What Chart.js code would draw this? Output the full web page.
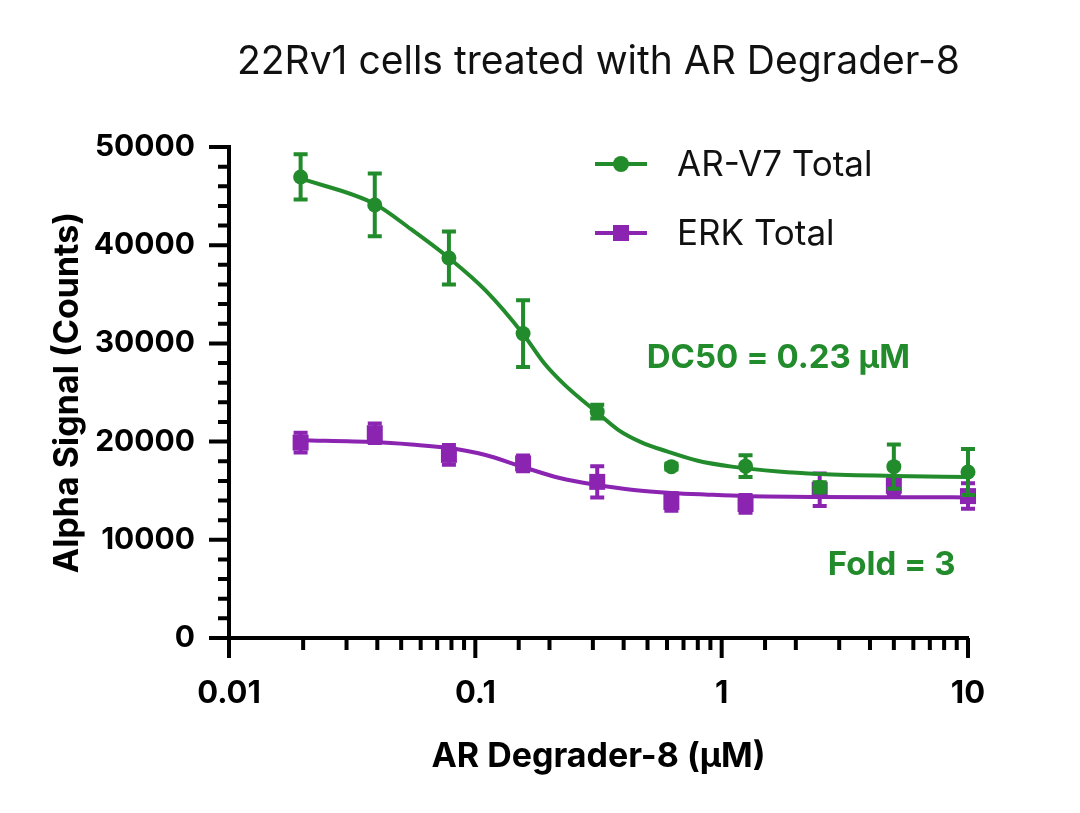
<!DOCTYPE html>
<html lang="en">
<head>
<meta charset="UTF-8">
<title>22Rv1 cells treated with AR Degrader-8</title>
<script src="https://cdn.jsdelivr.net/npm/chart.js"></script>
<style>
  body { margin: 0; background: #fff; }
  #box { width: 1080px; height: 813px; }
</style>
</head>
<body>
<div id="box"><canvas id="doseChart"></canvas></div>
<script>
// doses in µM (2-fold dilution from 10)
const doses = [0.01953125, 0.0390625, 0.078125, 0.15625, 0.3125, 0.625, 1.25, 2.5, 5, 10];

// measured points, mean and error
const arv7Mean = [46950, 44100, 38700, 31000, 23050, 17450, 17500, 15350, 17450, 16900];
const arv7Err  = [2300, 3200, 2700, 3400, 700, 300, 1100, 500, 2250, 2350];
const erkMean  = [19900, 20850, 18650, 17780, 15900, 13850, 13650, 15100, 15500, 14450];
const erkErr   = [1000, 1000, 1000, 800, 1600, 900, 900, 1650, 900, 1300];

// fitted curves
const arv7FitDoses = [0.01953125, 0.0390625, 0.055, 0.078125, 0.11, 0.15625, 0.19, 0.23, 0.3125, 0.38, 0.47, 0.6, 0.8, 1.1, 1.7, 2.5, 5, 10];
const arv7Fit      = [46800, 44200, 41600, 38700, 35400, 30960, 28000, 25800, 22950, 21200, 19950, 19000, 18050, 17450, 16950, 16700, 16500, 16400];
const erkFitDoses  = [0.01953125, 0.0390625, 0.055, 0.078125, 0.11, 0.15625, 0.22, 0.3125, 0.44, 0.625, 0.88, 1.25, 2.5, 5, 10];
const erkFit       = [20150, 19950, 19700, 19350, 18640, 17410, 16290, 15580, 15070, 14770, 14600, 14460, 14360, 14330, 14320];

const xTickLabels = ['0.01', '0.1', '1', '10'];
const yTickLabels = ['0', '10000', '20000', '30000', '40000', '50000'];

const GREEN = '#228B2B';
const PURPLE = '#8A24B1';
const boldFont = 'Inter, "Liberation Sans", sans-serif';

const pts = (xs, ys) => xs.map((x, i) => ({ x: x, y: ys[i] }));

// error bars, drawn under the markers of their own dataset
const errorBars = {
  id: 'errorBars',
  beforeDatasetDraw(chart, args) {
    const ds = chart.data.datasets[args.index];
    if (!ds.errors) return;
    const { ctx, scales: { x, y } } = chart;
    ctx.save();
    ctx.strokeStyle = ds.borderColor;
    ctx.lineWidth = 4;
    ds.data.forEach((p, i) => {
      const e = ds.errors[i];
      if (!e) return;
      const px = x.getPixelForValue(p.x);
      const top = y.getPixelForValue(p.y + e);
      const bot = y.getPixelForValue(p.y - e);
      ctx.beginPath();
      ctx.moveTo(px, top); ctx.lineTo(px, bot);
      ctx.moveTo(px - 7, top); ctx.lineTo(px + 7, top);
      ctx.moveTo(px - 7, bot); ctx.lineTo(px + 7, bot);
      ctx.stroke();
    });
    ctx.restore();
  }
};

// long / short tick marks outside the axes
const tickMarks = {
  id: 'tickMarks',
  afterDraw(chart) {
    const { ctx, chartArea: a, scales: { x, y } } = chart;
    ctx.save();
    ctx.strokeStyle = '#000';
    ctx.lineWidth = 4;
    ctx.beginPath();
    y.ticks.forEach(t => {
      const py = y.getPixelForValue(t.value);
      const len = t.value % 10000 === 0 ? 20 : 11;
      ctx.moveTo(a.left, py); ctx.lineTo(a.left - len, py);
    });
    x.ticks.forEach(t => {
      const px = x.getPixelForValue(t.value);
      const lg = Math.log10(t.value);
      const len = Math.abs(lg - Math.round(lg)) < 1e-9 ? 20 : 12;
      ctx.moveTo(px, a.bottom); ctx.lineTo(px, a.bottom + len);
    });
    ctx.stroke();
    ctx.restore();
  }
};

// title, legend and annotations
const captions = {
  id: 'captions',
  afterDraw(chart) {
    const { ctx, chartArea: a, scales: { x, y } } = chart;
    ctx.save();
    ctx.textBaseline = 'middle';

    ctx.fillStyle = '#111';
    ctx.textAlign = 'center';
    ctx.font = '400 39px Inter, sans-serif';
    ctx.fillText('22Rv1 cells treated with AR Degrader-8', (a.left + a.right) / 2, 62);

    // legend
    const rows = [
      { label: 'AR-V7 Total', color: GREEN, shape: 'circle', y: 164 },
      { label: 'ERK Total', color: PURPLE, shape: 'rect', y: 233 }
    ];
    rows.forEach(r => {
      ctx.strokeStyle = r.color;
      ctx.fillStyle = r.color;
      ctx.lineWidth = 4;
      ctx.beginPath();
      ctx.moveTo(595, r.y); ctx.lineTo(647, r.y);
      ctx.stroke();
      if (r.shape === 'circle') {
        ctx.beginPath();
        ctx.arc(621, r.y, 8, 0, Math.PI * 2);
        ctx.fill();
      } else {
        ctx.fillRect(613, r.y - 8, 16, 16);
      }
      ctx.fillStyle = '#111';
      ctx.textAlign = 'left';
      ctx.font = '400 35px Inter, sans-serif';
      ctx.fillText(r.label, 677, r.y + 1);
    });

    // annotations
    ctx.fillStyle = GREEN;
    ctx.textAlign = 'center';
    ctx.font = '700 33px ' + boldFont;
    ctx.fillText('DC50 = 0.23 µM', x.getPixelForValue(1.7), y.getPixelForValue(28500));
    ctx.fillText('Fold = 3', x.getPixelForValue(4.9), y.getPixelForValue(7400));
    ctx.restore();
  }
};

const ctx = document.getElementById('doseChart').getContext('2d');
new Chart(ctx, {
  type: 'line',
  data: {
    datasets: [
      {
        label: 'AR-V7 Total',
        data: pts(doses, arv7Mean),
        errors: arv7Err,
        showLine: false,
        pointStyle: 'circle',
        pointRadius: 7.5,
        backgroundColor: GREEN,
        borderColor: GREEN,
        borderWidth: 0,
        clip: false,
        order: 0
      },
      {
        label: 'AR-V7 fit',
        data: pts(arv7FitDoses, arv7Fit),
        borderColor: GREEN,
        borderWidth: 4,
        pointRadius: 0,
        cubicInterpolationMode: 'monotone',
        clip: false,
        order: 1
      },
      {
        label: 'ERK Total',
        data: pts(doses, erkMean),
        errors: erkErr,
        showLine: false,
        pointStyle: 'rect',
        pointRadius: 11.3,
        backgroundColor: PURPLE,
        borderColor: PURPLE,
        borderWidth: 0,
        clip: false,
        order: 2
      },
      {
        label: 'ERK fit',
        data: pts(erkFitDoses, erkFit),
        borderColor: PURPLE,
        borderWidth: 4,
        pointRadius: 0,
        cubicInterpolationMode: 'monotone',
        clip: false,
        order: 3
      }
    ]
  },
  options: {
    responsive: true,
    maintainAspectRatio: false,
    animation: false,
    events: [],
    layout: { padding: { left: 0, top: 147, right: 112, bottom: 0 } },
    plugins: {
      legend: { display: false },
      title: { display: false },
      tooltip: { enabled: false }
    },
    scales: {
      x: {
        type: 'logarithmic',
        min: 0.01,
        max: 10,
        grid: { display: false },
        border: { display: true, width: 4, color: '#000' },
        ticks: {
          autoSkip: false,
          maxRotation: 0,
          padding: 29,
          color: '#000',
          font: { family: boldFont, size: 31, weight: '700' },
          callback: v => xTickLabels.find(l => Math.abs(Number(l) - v) < 1e-9) || ''
        },
        title: {
          display: true,
          text: 'AR Degrader-8 (µM)',
          color: '#000',
          font: { family: boldFont, size: 34, weight: '700' },
          padding: { top: 0, bottom: 36 }
        },
        afterFit: s => { s.height = 175; }
      },
      y: {
        min: 0,
        max: 50000,
        grid: { display: false },
        border: { display: true, width: 4, color: '#000' },
        ticks: {
          stepSize: 2000,
          autoSkip: false,
          padding: 26,
          color: '#000',
          font: { family: boldFont, size: 30, weight: '700' },
          callback: v => yTickLabels.includes(String(v)) ? String(v) : ''
        },
        title: {
          display: true,
          text: 'Alpha Signal (Counts)',
          color: '#000',
          font: { family: boldFont, size: 34, weight: '700' },
          padding: { top: 47, bottom: 0 }
        },
        afterFit: s => { s.width = 229; }
      }
    }
  },
  plugins: [errorBars, tickMarks, captions]
});
</script>
</body>
</html>
